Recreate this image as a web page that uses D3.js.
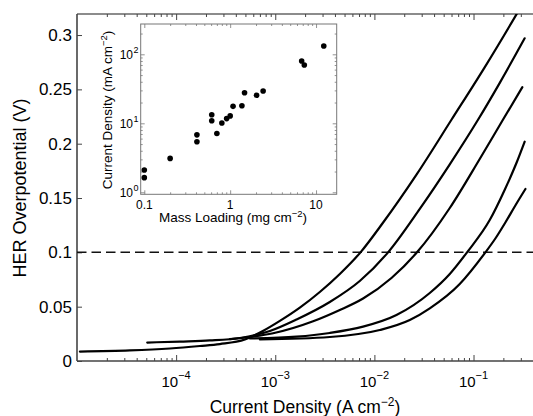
<!DOCTYPE html>
<html><head><meta charset="utf-8">
<script src="https://cdn.jsdelivr.net/npm/d3@7"></script>
<style>
body{margin:0;background:#fff}
svg{display:block}
text{font-family:Arial,"Liberation Sans",Helvetica,sans-serif;fill:#000}
</style></head>
<body><svg id="c" width="533" height="416"></svg>
<script>
// ---------- data ----------
const xMajorTicks = [1e-4, 1e-3, 1e-2, 1e-1];
const xTickExps = ["−4", "−3", "−2", "−1"];
const yTicks = [0, 0.05, 0.1, 0.15, 0.2, 0.25, 0.3];
const yTickLabels = ["0", "0.05", "0.1", "0.15", "0.2", "0.25", "0.3"];
const refPotential = 0.1;

// polarization curves: current density (A cm^-2) and overpotential (V)
const c1J = [1.07e-5, 3.42e-5, 8.66e-5, 1.74e-4, 2.76e-4, 4.94e-4, 7.5e-4, 1.113e-3, 1.77e-3, 2.815e-3, 4.48e-3, 7.24e-3, 1.215e-2, 2.68e-2, 5.99e-2, 0.130, 0.271, 0.369];
const c1V = [0.0087, 0.0097, 0.0115, 0.0138, 0.0156, 0.0198, 0.0276, 0.0369, 0.0491, 0.0635, 0.0801, 0.100, 0.127, 0.172, 0.222, 0.2705, 0.319, 0.340];
const c2J = [5.11e-5, 1.09e-4, 2.19e-4, 4.40e-4, 8.82e-4, 1.64e-3, 3.55e-3, 7.12e-3, 1.374e-2, 2.87e-2, 5.76e-2, 0.111, 0.184, 0.328];
const c2V = [0.0170, 0.0179, 0.0189, 0.0212, 0.0276, 0.0382, 0.0543, 0.0736, 0.100, 0.140, 0.181, 0.222, 0.256, 0.297];
const c3J = [3.49e-4, 5.55e-4, 9.52e-4, 2.41e-3, 4.48e-3, 7.69e-3, 1.487e-2, 2.69e-2, 5.76e-2, 0.1155, 0.198, 0.311];
const c3V = [0.0202, 0.0221, 0.0255, 0.0365, 0.0469, 0.0575, 0.0764, 0.100, 0.1408, 0.1859, 0.222, 0.252];
const c4J = [5.55e-4, 1.64e-3, 3.55e-3, 7.69e-3, 1.67e-2, 3.62e-2, 5.76e-2, 8.6e-2, 0.1457, 0.206, 0.271, 0.328];
const c4V = [0.0207, 0.0224, 0.0258, 0.0316, 0.0423, 0.0626, 0.0801, 0.100, 0.1297, 0.1574, 0.1822, 0.2018];
const c5J = [7.0e-4, 3.55e-3, 1.133e-2, 2.275e-2, 3.62e-2, 7.26e-2, 0.1318, 0.1674, 0.211, 0.266, 0.334];
const c5V = [0.0198, 0.0221, 0.0285, 0.0377, 0.0485, 0.0709, 0.100, 0.1132, 0.1279, 0.1436, 0.1583];

// inset: mass loading (mg cm^-2) vs current density (mA cm^-2)
const massLoading = [0.1, 0.1, 0.2, 0.41, 0.41, 0.61, 0.61, 0.70, 0.80, 0.91, 1.0, 1.08, 1.37, 1.47, 2.03, 2.42, 6.8, 7.3, 12.3];
const insetCurrent = [2.1, 1.63, 3.1, 6.8, 5.4, 13.3, 10.9, 7.1, 10.1, 11.7, 12.8, 17.6, 18.0, 27.7, 25.5, 29.4, 80, 70, 132];
const insetXTicks = [0.1, 1, 10];
const insetXTickLabels = ["0.1", "1", "10"];
const insetYTicks = [1, 10, 100];
const insetYTickExps = ["0", "1", "2"];

// ---------- drawing ----------
const svg = d3.select("#c");
const x = d3.scaleLog().domain([1e-5, Math.pow(10, -0.4)]).range([77, 533]);
const y = d3.scaleLinear().domain([0, 0.32]).range([361, 13.3]);
const axisColor = "#444";

svg.append("defs").append("clipPath").attr("id", "clipMain")
  .append("rect").attr("x", 77).attr("y", 14).attr("width", 456).attr("height", 347);

svg.append("line").attr("x1", 77).attr("x2", 533).attr("y1", 14).attr("y2", 14).attr("stroke", "#666").attr("stroke-width", 1.6);

const xMinor = x.ticks().filter(v => Math.abs(Math.log10(v) - Math.round(Math.log10(v))) > 1e-6);
function styleAxis(g) {
  g.select(".domain").remove();
  g.selectAll("line").attr("stroke", axisColor).attr("stroke-width", 1);
}
svg.append("g").attr("transform", "translate(0,361)")
  .call(d3.axisBottom(x).tickValues(xMinor).tickSize(-3).tickFormat("")).call(styleAxis);
svg.append("g").attr("transform", "translate(0,361)")
  .call(d3.axisBottom(x).tickValues(xMajorTicks).tickSize(-6).tickFormat("")).call(styleAxis);
svg.append("g").attr("transform", "translate(0,14)")
  .call(d3.axisTop(x).tickValues(xMinor).tickSize(-3).tickFormat("")).call(styleAxis);
svg.append("g").attr("transform", "translate(0,14)")
  .call(d3.axisTop(x).tickValues(xMajorTicks).tickSize(-6).tickFormat("")).call(styleAxis);
svg.append("g").attr("transform", "translate(77,0)")
  .call(d3.axisLeft(y).tickValues(yTicks).tickSize(-5).tickFormat("")).call(styleAxis);

svg.append("line").attr("x1", 77).attr("x2", 77).attr("y1", 14).attr("y2", 361).attr("stroke", axisColor).attr("stroke-width", 1.6);
svg.append("line").attr("x1", 77).attr("x2", 533).attr("y1", 361).attr("y2", 361).attr("stroke", axisColor).attr("stroke-width", 1.6);

yTicks.forEach((v, i) => {
  svg.append("text").attr("x", 72).attr("y", y(v)).attr("dy", "0.36em")
    .attr("text-anchor", "end").attr("font-size", 17).text(yTickLabels[i]);
});
xMajorTicks.forEach((v, i) => {
  const t = svg.append("text").attr("x", x(v)).attr("y", 387)
    .attr("text-anchor", "middle").attr("font-size", 15);
  t.append("tspan").text("10");
  t.append("tspan").attr("font-size", 11).attr("dy", -8).text(xTickExps[i]);
});

const xt = svg.append("text").attr("x", 305).attr("y", 413).attr("text-anchor", "middle").attr("font-size", 17.5);
xt.append("tspan").text("Current Density (A cm");
xt.append("tspan").attr("font-size", 12).attr("dy", -7).text("−2");
xt.append("tspan").attr("dy", 7).text(")");
svg.append("text").attr("transform", "translate(26,188) rotate(-90)")
  .attr("text-anchor", "middle").attr("font-size", 18).text("HER Overpotential (V)");

svg.append("line").attr("x1", 77).attr("x2", 533).attr("y1", y(refPotential)).attr("y2", y(refPotential))
  .attr("stroke", "#111").attr("stroke-width", 1.5).attr("stroke-dasharray", "9.5,5");

const line = d3.line().x(d => x(d[0])).y(d => y(d[1])).curve(d3.curveMonotoneX);
const curves = [[c1J, c1V], [c2J, c2V], [c3J, c3V], [c4J, c4V], [c5J, c5V]];
const gc = svg.append("g").attr("clip-path", "url(#clipMain)");
curves.forEach(([J, V]) => {
  gc.append("path").datum(J.map((j, i) => [j, V[i]]))
    .attr("d", line).attr("fill", "none").attr("stroke", "#000").attr("stroke-width", 2.2)
    .attr("stroke-linejoin", "round").attr("stroke-linecap", "round");
});

// ---------- inset ----------
const xi = d3.scaleLog().domain([0.0908, 17.4]).range([140.7, 336.7]);
const yi = d3.scaleLog().domain([0.935, 275]).range([194.3, 24]);
const ins = svg.append("g");
ins.append("rect").attr("x", 140.7).attr("y", 24).attr("width", 196).attr("height", 170.3)
  .attr("fill", "#fff").attr("stroke", "#777").attr("stroke-width", 1);

const xiMinor = xi.ticks().filter(v => !insetXTicks.some(m => Math.abs(m - v) / m < 1e-6));
const yiMinor = yi.ticks().filter(v => !insetYTicks.some(m => Math.abs(m - v) / m < 1e-6));
function styleInset(g) {
  g.select(".domain").remove();
  g.selectAll("line").attr("stroke", "#777").attr("stroke-width", 0.8);
}
ins.append("g").attr("transform", "translate(0,194.3)").call(d3.axisBottom(xi).tickValues(xiMinor).tickSize(-2).tickFormat("")).call(styleInset);
ins.append("g").attr("transform", "translate(0,194.3)").call(d3.axisBottom(xi).tickValues(insetXTicks).tickSize(-4).tickFormat("")).call(styleInset);
ins.append("g").attr("transform", "translate(0,24)").call(d3.axisTop(xi).tickValues(xiMinor).tickSize(-2).tickFormat("")).call(styleInset);
ins.append("g").attr("transform", "translate(0,24)").call(d3.axisTop(xi).tickValues(insetXTicks).tickSize(-4).tickFormat("")).call(styleInset);
ins.append("g").attr("transform", "translate(140.7,0)").call(d3.axisLeft(yi).tickValues(yiMinor).tickSize(-2).tickFormat("")).call(styleInset);
ins.append("g").attr("transform", "translate(140.7,0)").call(d3.axisLeft(yi).tickValues(insetYTicks).tickSize(-4).tickFormat("")).call(styleInset);
ins.append("g").attr("transform", "translate(336.7,0)").call(d3.axisRight(yi).tickValues(yiMinor).tickSize(-2).tickFormat("")).call(styleInset);
ins.append("g").attr("transform", "translate(336.7,0)").call(d3.axisRight(yi).tickValues(insetYTicks).tickSize(-4).tickFormat("")).call(styleInset);

insetXTicks.forEach((v, i) => {
  ins.append("text").attr("x", xi(v)).attr("y", 208.5).attr("text-anchor", "middle")
    .attr("font-size", 12).text(insetXTickLabels[i]);
});
insetYTicks.forEach((v, i) => {
  ins.append("text").attr("x", 133).attr("y", yi(v)).attr("dy", "0.4em")
    .attr("text-anchor", "end").attr("font-size", 12).text("10");
  ins.append("text").attr("x", 133.5).attr("y", yi(v)).attr("dy", "-0.15em")
    .attr("text-anchor", "start").attr("font-size", 9).text(insetYTickExps[i]);
});

const xit = ins.append("text").attr("x", 233).attr("y", 222).attr("text-anchor", "middle").attr("font-size", 13.5);
xit.append("tspan").text("Mass Loading (mg cm");
xit.append("tspan").attr("font-size", 9.5).attr("dy", -5).text("−2");
xit.append("tspan").attr("dy", 5).text(")");
const yit = ins.append("text").attr("transform", "translate(112,110) rotate(-90)")
  .attr("text-anchor", "middle").attr("font-size", 13.5);
yit.append("tspan").text("Current Density (mA cm");
yit.append("tspan").attr("font-size", 9.5).attr("dy", -5).text("−2");
yit.append("tspan").attr("dy", 5).text(")");

ins.selectAll("circle.pt").data(massLoading.map((m, i) => [m, insetCurrent[i]]))
  .enter().append("circle").attr("class", "pt")
  .attr("cx", d => xi(d[0])).attr("cy", d => yi(d[1])).attr("r", 2.8).attr("fill", "#000");
</script>
</body></html>
